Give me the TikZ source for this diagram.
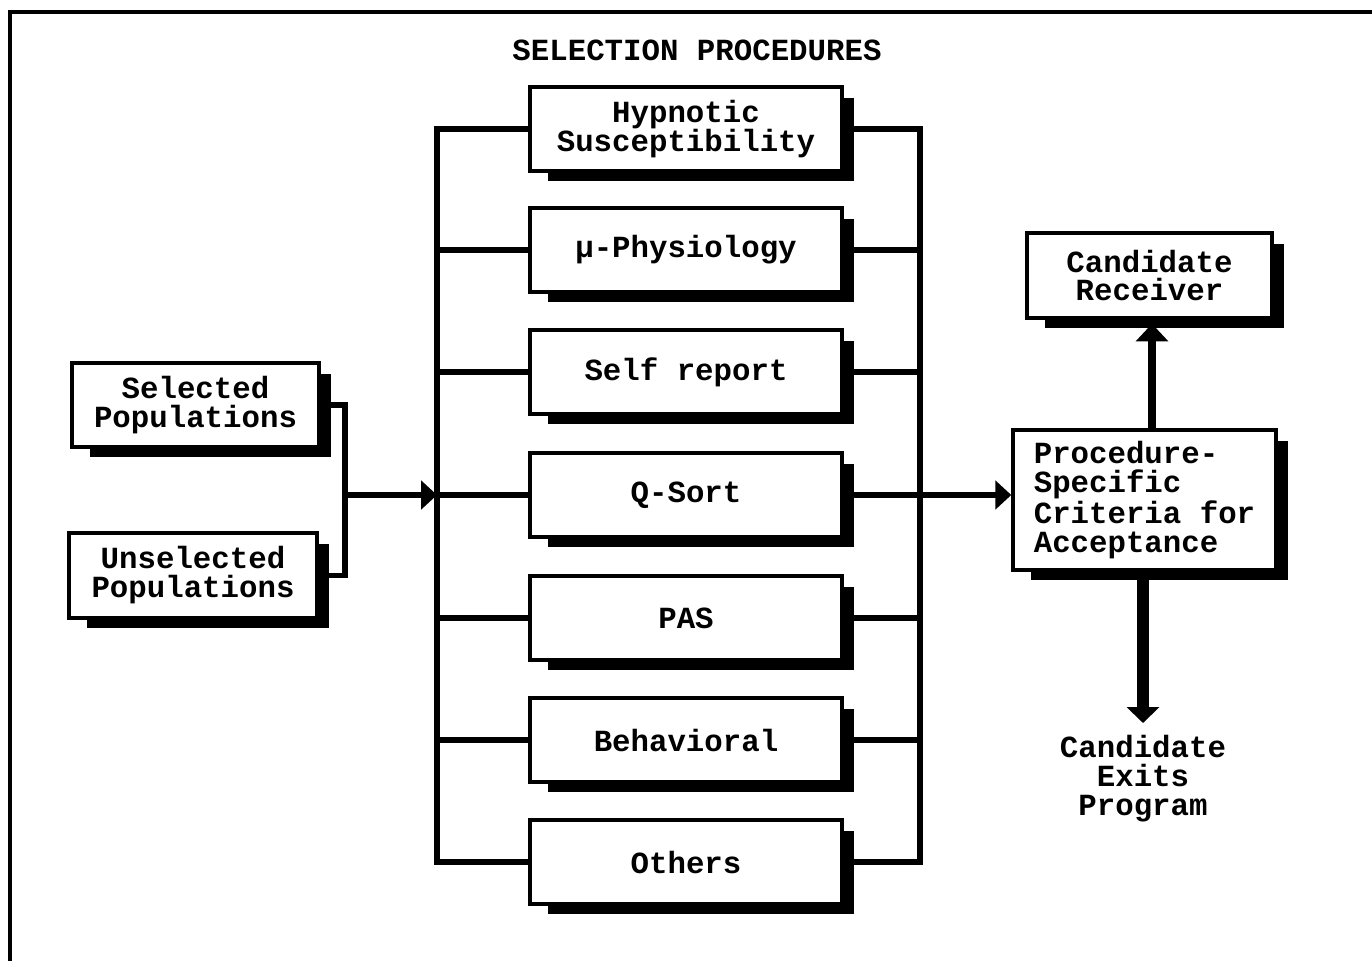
\documentclass[tikz,border=0pt]{standalone}
\usepackage{fontspec}
\newfontfamily\twfont{Liberation Mono}
\usetikzlibrary{arrows.meta,calc}
\pgfdeclarelayer{lines}
\pgfdeclarelayer{shadows}
\pgfsetlayers{lines,shadows,main}
\begin{document}
\begin{tikzpicture}[x=0.02cm,y=-0.02cm,
  txt/.style={font=\twfont\bfseries\fontsize{17.5}{16.5}\selectfont, align=center, inner sep=0pt},
  box/.style={txt, draw, fill=white, line width=2pt},
  mid/.style={box, minimum width=6.24cm, minimum height=1.68cm},
  conn/.style={line width=3.2pt, line join=miter},
  arr/.style={conn, -{Triangle[length=9pt,width=16pt]}},
  ]
\useasboundingbox (0,0) rectangle (1372,961);
\draw[line width=2.5pt] (1372,12) -- (10,12) -- (10,961);

\coordinate (lbus) at (437,0);
\coordinate (rbus) at (920,0);
\coordinate (join) at (345,495);
\coordinate (upx) at (1152,0);

\node[txt] (title) at (697,50) {SELECTION PROCEDURES};
\node[mid] (n1) at (686,129) {Hypnotic\\Susceptibility};
\node[mid] (n2) at (686,250) {μ-Physiology};
\node[mid] (n3) at (686,372) {Self report};
\node[mid] (n4) at (686,495) {Q-Sort};
\node[mid] (n5) at (686,618) {PAS};
\node[mid] (n6) at (686,740) {Behavioral};
\node[mid] (n7) at (686,862) {Others};
\node[box, minimum width=4.94cm, minimum height=1.68cm] (sel) at (195.5,405) {Selected\\Populations};
\node[box, minimum width=4.96cm, minimum height=1.7cm] (unsel) at (193,575.5) {Unselected\\Populations};
\node[box, minimum width=4.9cm, minimum height=1.7cm] (rec) at (1149.5,275.5) {Candidate\\Receiver};
\node[box, align=left, minimum width=5.26cm, minimum height=2.8cm] (proc) at (1144.5,500) {Procedure-\\Specific\\Criteria for\\Acceptance};
\node[txt, anchor=north, inner ysep=6.5pt] (exits) at (1143,723) {Candidate\\Exits\\Program};

\begin{pgfonlayer}{shadows}
\foreach \n in {n1,n2,n3,n4,n5,n6,n7,sel,unsel,rec,proc}
  \fill ($(\n.north west)+(20,13)$) rectangle ($(\n.south east)+(10,8)$);
\end{pgfonlayer}

\begin{pgfonlayer}{lines}
\draw[conn] (n1.west) -- (n1.west -| lbus) -- (n7.west -| lbus) -- (n7.west);
\draw[conn] (n1.east) -- (n1.east -| rbus) -- (n7.east -| rbus) -- (n7.east);
\foreach \n in {n2,n3,n4,n5,n6} {
  \draw[conn] (\n.west -| lbus) -- (\n.west);
  \draw[conn] (\n.east) -- (\n.east -| rbus);
}
\draw[conn] (sel.east) -- (sel.east -| join) -- (unsel.east -| join) -- (unsel.east);
\draw[arr] (join) -- (join -| lbus);
\draw[arr] (n4.east -| rbus) -- (n4.east -| proc.west);
\draw[line width=4.5pt, -{Triangle[length=10pt,width=18pt]}] (proc.north -| upx) -- ($(rec.south -| upx)+(0,4)$);
\draw[line width=6.5pt, -{Triangle[length=9pt,width=18pt]}] (proc.south -| exits.north) -- (exits.north);
\end{pgfonlayer}
\end{tikzpicture}
\end{document}
